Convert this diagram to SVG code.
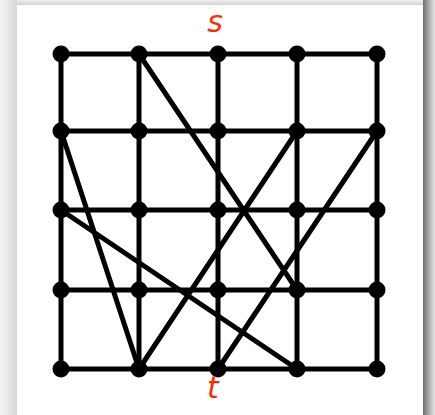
<svg xmlns="http://www.w3.org/2000/svg" width="435" height="415" viewBox="0 0 435 415">
<style>
.e{stroke:#000;stroke-width:5;fill:none;stroke-linecap:round}
.n{fill:#000}
.lbl{font-family:"DejaVu Sans","Liberation Sans",sans-serif;font-style:italic;font-size:30px;fill:#ff2a00;text-anchor:middle}
</style>
<defs>
<linearGradient id="lg" x1="0" x2="1" y1="0" y2="0"><stop offset="0" stop-color="#f4f4f4"/><stop offset="1" stop-color="#d8d8d8"/></linearGradient>
<linearGradient id="rg" x1="0" x2="1" y1="0" y2="0"><stop offset="0" stop-color="#707070"/><stop offset="1" stop-color="#e8e8e8"/></linearGradient>
<linearGradient id="tg" x1="0" x2="0" y1="0" y2="1"><stop offset="0" stop-color="#f0f0f0"/><stop offset="1" stop-color="#d0d0d0"/></linearGradient>
</defs>
<rect width="435" height="415" fill="#ececec"/>
<rect x="0" y="0" width="17" height="415" fill="url(#lg)"/>
<rect x="17" y="0" width="406" height="5" fill="url(#tg)"/>
<rect x="423" y="0" width="12" height="415" fill="url(#rg)"/>
<rect x="17" y="5" width="406" height="410" fill="#fff"/>
<g id="connectors">
<path class="e" d="M61 54H377M61 131H377M61 210H377M61 290H377M61 369H377"/>
<path class="e" d="M61 54V369M139 54V369M218 54V369M297 54V369M377 54V369"/>
<path class="e" d="M139 54L297 290M61 131L139 369M61 210L297 369M297 131L139 369M377 131L218 369"/>
</g>
<g id="nodes">
<g id="n00"><circle class="n" cx="61" cy="54" r="8.5"/></g>
<g id="n01"><circle class="n" cx="139" cy="54" r="8.5"/></g>
<g id="s"><circle class="n" cx="218" cy="54" r="8.5"/><text class="lbl" x="215" y="32">s</text></g>
<g id="n03"><circle class="n" cx="297" cy="54" r="8.5"/></g>
<g id="n04"><circle class="n" cx="377" cy="54" r="8.5"/></g>
<g id="n10"><circle class="n" cx="61" cy="131" r="8.5"/></g>
<g id="n11"><circle class="n" cx="139" cy="131" r="8.5"/></g>
<g id="n12"><circle class="n" cx="218" cy="131" r="8.5"/></g>
<g id="n13"><circle class="n" cx="297" cy="131" r="8.5"/></g>
<g id="n14"><circle class="n" cx="377" cy="131" r="8.5"/></g>
<g id="n20"><circle class="n" cx="61" cy="210" r="8.5"/></g>
<g id="n21"><circle class="n" cx="139" cy="210" r="8.5"/></g>
<g id="n22"><circle class="n" cx="218" cy="210" r="8.5"/></g>
<g id="n23"><circle class="n" cx="297" cy="210" r="8.5"/></g>
<g id="n24"><circle class="n" cx="377" cy="210" r="8.5"/></g>
<g id="n30"><circle class="n" cx="61" cy="290" r="8.5"/></g>
<g id="n31"><circle class="n" cx="139" cy="290" r="8.5"/></g>
<g id="n32"><circle class="n" cx="218" cy="290" r="8.5"/></g>
<g id="n33"><circle class="n" cx="297" cy="290" r="8.5"/></g>
<g id="n34"><circle class="n" cx="377" cy="290" r="8.5"/></g>
<g id="n40"><circle class="n" cx="61" cy="369" r="8.5"/></g>
<g id="n41"><circle class="n" cx="139" cy="369" r="8.5"/></g>
<g id="t"><circle class="n" cx="218" cy="369" r="8.5"/><text class="lbl" x="213" y="398">t</text></g>
<g id="n43"><circle class="n" cx="297" cy="369" r="8.5"/></g>
<g id="n44"><circle class="n" cx="377" cy="369" r="8.5"/></g>
</g>
</svg>
